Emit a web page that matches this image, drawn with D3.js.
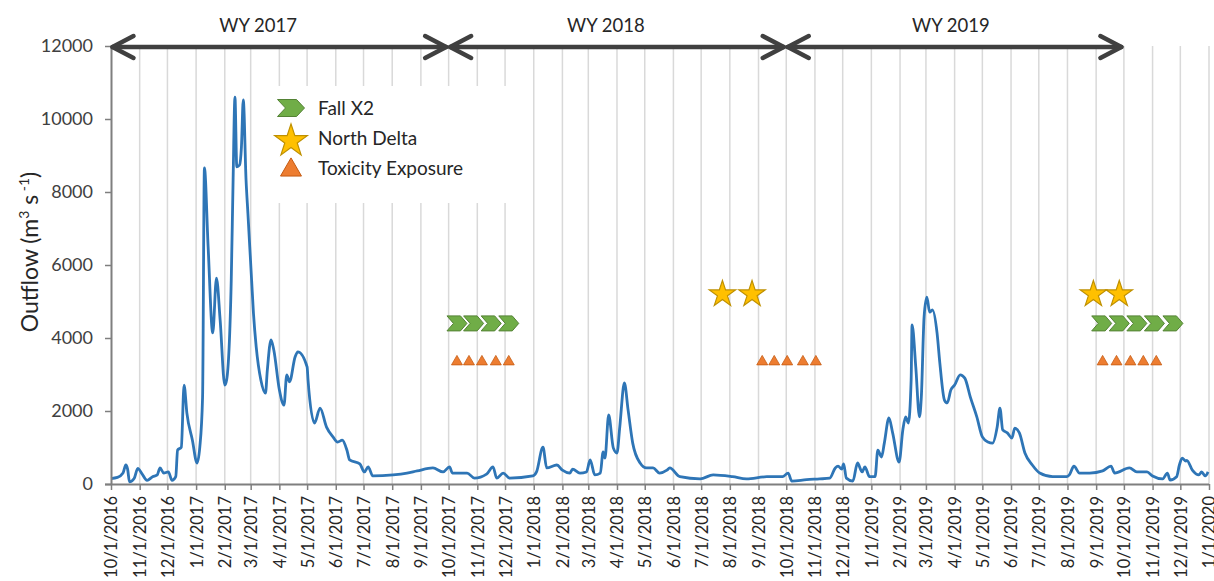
<!DOCTYPE html>
<html>
<head>
<meta charset="utf-8">
<script src="https://cdn.jsdelivr.net/npm/d3@7"></script>
<style>
  html, body { margin: 0; padding: 0; background: #fff; }
  svg { display: block; font-family: Lato, "Open Sans", sans-serif; }
</style>
</head>
<body>
<svg id="chart" width="1214" height="581"></svg>
<script>
// ---------------- DATA ----------------
const flowDates = [
  "2016-10-01","2016-10-08","2016-10-14","2016-10-17","2016-10-19","2016-10-21","2016-10-26","2016-10-30",
  "2016-11-03","2016-11-09","2016-11-15","2016-11-20","2016-11-23","2016-11-27","2016-12-02","2016-12-06",
  "2016-12-10","2016-12-12","2016-12-16","2016-12-19","2016-12-22","2016-12-28","2017-01-02","2017-01-05",
  "2017-01-08","2017-01-10","2017-01-14","2017-01-19","2017-01-23","2017-01-27","2017-02-01","2017-02-03",
  "2017-02-08","2017-02-10","2017-02-12","2017-02-14","2017-02-17","2017-02-19","2017-02-21","2017-02-24",
  "2017-02-26","2017-03-02","2017-03-04","2017-03-07","2017-03-12","2017-03-17","2017-03-19","2017-03-23",
  "2017-03-26","2017-04-01","2017-04-06","2017-04-09","2017-04-12","2017-04-18","2017-04-21","2017-05-01",
  "2017-05-02","2017-05-09","2017-05-15","2017-05-22","2017-05-29","2017-06-03","2017-06-08","2017-06-13",
  "2017-06-16","2017-06-27","2017-07-02","2017-07-06","2017-07-11","2017-08-02","2017-08-17","2017-08-28",
  "2017-09-14","2017-09-25","2017-10-02","2017-10-05","2017-10-21","2017-10-29","2017-11-11","2017-11-18",
  "2017-11-22","2017-11-29","2017-12-06","2017-12-31","2018-01-04","2018-01-11","2018-01-15","2018-01-26",
  "2018-02-01","2018-02-09","2018-02-12","2018-02-20","2018-02-27","2018-03-03","2018-03-08","2018-03-14",
  "2018-03-17","2018-03-19","2018-03-23","2018-03-28","2018-04-01","2018-04-04","2018-04-09","2018-04-13",
  "2018-04-18","2018-04-26","2018-05-03","2018-05-10","2018-05-17","2018-05-25","2018-05-28","2018-06-08",
  "2018-06-30","2018-07-14","2018-08-04","2018-08-19","2018-09-10","2018-09-27","2018-10-03","2018-10-07",
  "2018-10-23","2018-11-06","2018-11-17","2018-11-23","2018-11-26","2018-11-30","2018-12-02","2018-12-05",
  "2018-12-12","2018-12-17","2018-12-22","2018-12-25","2018-12-30","2019-01-05","2019-01-08","2019-01-12",
  "2019-01-15","2019-01-20","2019-01-24","2019-01-31","2019-02-04","2019-02-07","2019-02-10","2019-02-13",
  "2019-02-14","2019-02-18","2019-02-22","2019-02-24","2019-02-27","2019-03-02","2019-03-05","2019-03-08",
  "2019-03-13","2019-03-16","2019-03-21","2019-03-24","2019-03-28","2019-04-01","2019-04-07","2019-04-12",
  "2019-04-18","2019-04-25","2019-05-01","2019-05-07","2019-05-12","2019-05-17","2019-05-20","2019-05-23",
  "2019-05-28","2019-06-02","2019-06-05","2019-06-10","2019-06-16","2019-06-24","2019-07-02","2019-07-16",
  "2019-07-31","2019-08-03","2019-08-08","2019-08-14","2019-08-25","2019-09-08","2019-09-17","2019-09-21",
  "2019-10-07","2019-10-15","2019-10-26","2019-11-01","2019-11-12","2019-11-17","2019-11-20","2019-11-27",
  "2019-11-30","2019-12-03","2019-12-07","2019-12-08","2019-12-14","2019-12-21","2019-12-24","2019-12-28",
  "2019-12-31"
];
const flowValues = [
  150,180,300,520,400,60,150,430,
  300,100,200,250,440,300,330,100,
  200,930,1010,2710,1950,1200,575,1010,
  2380,8660,6500,4140,5640,4490,2710,2850,
  5590,8330,10600,8690,8740,9230,10520,8330,
  7420,5590,4680,3750,2850,2490,3120,3950,
  3670,2580,2160,2990,2800,3480,3620,3210,
  2850,1670,2080,1560,1290,1150,1200,930,
  660,550,330,470,220,250,300,360,
  440,330,470,300,300,160,270,470,
  160,300,160,220,330,1010,440,520,
  380,300,410,300,330,660,250,300,
  880,710,1890,990,850,1560,2770,2030,
  1120,575,440,440,300,380,440,200,
  140,250,200,140,200,200,300,80,
  120,140,160,440,490,410,550,160,
  80,575,330,470,200,200,930,740,
  1120,1810,1400,600,1480,1840,1670,2850,
  4360,3210,1840,2380,4580,5120,4710,4770,
  4140,3320,2300,2220,2580,2710,2990,2900,
  2380,1840,1290,1150,1120,1560,2080,1480,
  1400,1260,1530,1400,850,520,300,200,
  200,250,490,300,300,360,490,300,
  440,330,330,220,140,300,110,200,
  520,710,630,650,380,250,330,220,
  330
];

const yTickValues = [0, 2000, 4000, 6000, 8000, 10000, 12000];
const xDomain = ["2016-10-01", "2020-01-01"];

const wyLabels = ["WY 2017", "WY 2018", "WY 2019"];
const wyStart  = ["2016-10-01", "2017-10-01", "2018-10-01"];
const wyEnd    = ["2017-10-01", "2018-10-01", "2019-10-01"];
const wyLabelAt = ["2017-03-09", "2018-03-20", "2019-03-28"];

const legendLabels = ["Fall X2", "North Delta", "Toxicity Exposure"];

const fallX2Dates = ["2017-10-10","2017-10-28","2017-11-16","2017-12-05",
                     "2019-09-07","2019-09-26","2019-10-15","2019-11-03","2019-11-23"];
const fallX2Level = 4400;
const northDeltaDates = ["2018-07-24","2018-08-25","2019-08-29","2019-09-26"];
const northDeltaLevel = 5200;
const toxicityDates = ["2017-10-10","2017-10-23","2017-11-06","2017-11-21","2017-12-05",
                       "2018-09-05","2018-09-18","2018-10-02","2018-10-19","2018-11-02",
                       "2019-09-08","2019-09-23","2019-10-08","2019-10-22","2019-11-05"];
const toxicityLevel = 3350;

// ---------------- CHART ----------------
const parse = d3.timeParse("%Y-%m-%d");
const svg = d3.select("#chart");
const L = 111, R = 1209, T = 46, B = 484;

const x = d3.scaleTime().domain(xDomain.map(parse)).range([L, R]);
const y = d3.scaleLinear().domain([0, 12000]).range([B, T]);

const months = d3.timeMonth.range(parse(xDomain[0]), d3.timeDay.offset(parse(xDomain[1]), 1));

// vertical gridlines
svg.append("g").selectAll("line").data(months.slice(1)).join("line")
  .attr("x1", d => x(d)).attr("x2", d => x(d))
  .attr("y1", y(12000)).attr("y2", y(0))
  .attr("stroke", "#d9d9d9").attr("stroke-width", 1.5);

// legend background (covers gridlines)
svg.append("rect").attr("x", 268).attr("y", 86).attr("width", 252).attr("height", 117).attr("fill", "#fff");

// flow line
const line = d3.line()
  .x((d, i) => x(parse(flowDates[i])))
  .y(d => y(d))
  .curve(d3.curveMonotoneX);
svg.append("path").datum(flowValues)
  .attr("d", line).attr("fill", "none")
  .attr("stroke", "#2e75b6").attr("stroke-width", 2.8).attr("stroke-linejoin", "round");

// axes
const yAxis = svg.append("g").attr("transform", `translate(${L},0)`)
  .call(d3.axisLeft(y).tickValues(yTickValues).tickFormat(d3.format("d"))
    .tickSize(6).tickPadding(12).tickSizeOuter(0));
yAxis.select(".domain").attr("stroke", "#7f7f7f").attr("stroke-width", 2);
yAxis.selectAll(".tick line").attr("stroke", "#7f7f7f").attr("stroke-width", 1.5);
yAxis.selectAll("text").attr("font-size", "18px").attr("fill", "#404040")
  .attr("font-family", "Lato, sans-serif");

const xAxis = svg.append("g").attr("transform", `translate(0,${B})`)
  .call(d3.axisBottom(x).tickValues(months).tickFormat(d3.timeFormat("%-m/%-d/%Y")).tickSize(6).tickSizeOuter(0));
xAxis.select(".domain").attr("stroke", "#7f7f7f").attr("stroke-width", 2)
  .attr("d", `M${L - 6},0.5H${R}`);
xAxis.selectAll(".tick line").attr("stroke", "#7f7f7f").attr("stroke-width", 1.5);
xAxis.selectAll("text")
  .attr("font-size", "16.5px").attr("fill", "#262626").attr("font-family", "Lato, sans-serif")
  .attr("text-anchor", "end")
  .attr("transform", "rotate(-90)")
  .attr("x", -12).attr("y", 0).attr("dy", "0.36em");

// y-axis title
const yt = svg.append("text")
  .attr("transform", "translate(38,252) rotate(-90)")
  .attr("text-anchor", "middle")
  .attr("font-size", "23px").attr("fill", "#262626");
yt.append("tspan").text("Outflow (m");
yt.append("tspan").text("3").attr("font-size", "14px").attr("dy", "-9");
yt.append("tspan").text(" s").attr("dy", "9");
yt.append("tspan").text(" -1").attr("font-size", "14px").attr("dy", "-9");
yt.append("tspan").text(")").attr("dy", "9");

// water-year arrows
const arrowG = svg.append("g").attr("stroke", "#404040").attr("stroke-width", 4.5)
  .attr("fill", "none").attr("stroke-linecap", "round").attr("stroke-linejoin", "round");
const ay = y(12000) + 1;
wyLabels.forEach((lab, i) => {
  const x0 = x(parse(wyStart[i])) + 1.5, x1 = x(parse(wyEnd[i])) - 2.5;
  arrowG.append("line").attr("x1", x0).attr("x2", x1).attr("y1", ay).attr("y2", ay);
  arrowG.append("path").attr("d", `M${x0 + 21},${ay - 11}L${x0},${ay}L${x0 + 21},${ay + 11}`);
  arrowG.append("path").attr("d", `M${x1 - 21},${ay - 11}L${x1},${ay}L${x1 - 21},${ay + 11}`);
  svg.append("text").attr("x", x(parse(wyLabelAt[i]))).attr("y", 32)
    .attr("text-anchor", "middle").attr("font-size", "18.5px").attr("fill", "#262626").text(lab);
});

// marker shapes
function chevronPath(w, h, d) {
  return `M${-w/2},${-h/2}L${w/2 - d},${-h/2}L${w/2},0L${w/2 - d},${h/2}L${-w/2},${h/2}L${-w/2 + d},0Z`;
}
const starSym = d3.symbol(d3.symbolStar);
const triSym = d3.symbol(d3.symbolTriangle);

// Fall X2 chevrons
svg.append("g").selectAll("path").data(fallX2Dates).join("path")
  .attr("transform", d => `translate(${x(parse(d))},${y(fallX2Level)})`)
  .attr("d", chevronPath(20, 15, 6.5))
  .attr("fill", "#70ad47").attr("stroke", "#548235").attr("stroke-width", 1);

// North Delta stars
svg.append("g").selectAll("path").data(northDeltaDates).join("path")
  .attr("transform", d => `translate(${x(parse(d))},${y(northDeltaLevel)})`)
  .attr("d", starSym.size(215)())
  .attr("fill", "#ffc000").attr("stroke", "#bf9000").attr("stroke-width", 1.2);

// Toxicity triangles
svg.append("g").selectAll("path").data(toxicityDates).join("path")
  .attr("transform", d => `translate(${x(parse(d))},${y(toxicityLevel)})`)
  .attr("d", triSym.size(52)())
  .attr("fill", "#ed7d31").attr("stroke", "#c55a11").attr("stroke-width", 0.8);

// legend
const lg = svg.append("g");
lg.append("path").attr("transform", "translate(291,108)")
  .attr("d", chevronPath(27, 17, 8))
  .attr("fill", "#70ad47").attr("stroke", "#548235").attr("stroke-width", 1);
lg.append("path").attr("transform", "translate(291,141)")
  .attr("d", d3.symbol(d3.symbolStar, 330)())
  .attr("fill", "#ffc000").attr("stroke", "#bf9000").attr("stroke-width", 1.2);
lg.append("path").attr("transform", "translate(291,170)")
  .attr("d", d3.symbol(d3.symbolTriangle, 190)())
  .attr("fill", "#ed7d31").attr("stroke", "#c55a11").attr("stroke-width", 1);
legendLabels.forEach((t, i) => {
  lg.append("text").attr("x", 318).attr("y", 108 + i * 30).attr("dy", "0.35em")
    .attr("font-size", "19px").attr("fill", "#262626").text(t);
});
</script>
</body>
</html>
